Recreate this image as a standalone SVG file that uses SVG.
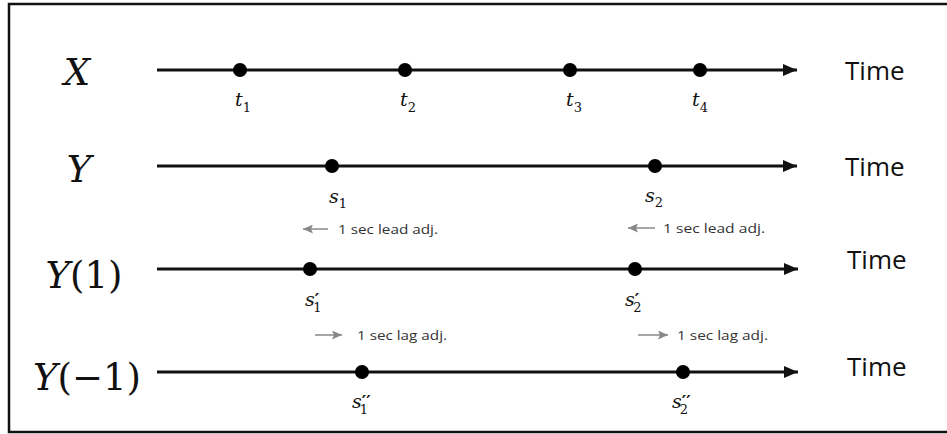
<svg xmlns="http://www.w3.org/2000/svg" width="947" height="434" viewBox="0 0 947 434">
<style>
.frame{fill:none;stroke:#111;stroke-width:2.5}
.axis{stroke:#111;stroke-width:3;fill:none}
.dot{fill:#000}
.big{font-family:"DejaVu Serif","Liberation Serif",serif;font-size:37px;fill:#111}
.it{font-style:italic}
.var{font-family:"DejaVu Serif","Liberation Serif",serif;font-style:italic;font-size:19px;fill:#111}
.sub{font-family:"DejaVu Serif","Liberation Serif",serif;font-style:normal;font-size:13px;fill:#111}
.pr{font-family:"DejaVu Serif","Liberation Serif",serif;font-style:normal;font-size:17px;font-weight:bold;fill:#111}
.time{font-family:"Open Sans","Liberation Sans",sans-serif;font-size:26px;fill:#111}
.note{font-family:"Open Sans","Liberation Sans",sans-serif;font-size:13px;fill:#333}
.adj{stroke:#888;stroke-width:1.5;fill:none}
</style>
<defs>
<marker id="ah" markerWidth="14" markerHeight="12" refX="14" refY="6" orient="auto" markerUnits="userSpaceOnUse">
<path d="M0,0 L14,6 L0,12 Z" fill="#111"/>
</marker>
<marker id="gh" markerWidth="10" markerHeight="9" refX="10" refY="4.5" orient="auto" markerUnits="userSpaceOnUse">
<path d="M0,0 L10,4.5 L0,9 L2,4.5 Z" fill="#888"/>
</marker>
</defs>
<rect class="frame" x="9" y="4" width="945" height="428"/>

<g id="connectors">
<line class="axis" x1="157" y1="70" x2="797" y2="70" marker-end="url(#ah)"/>
<line class="axis" x1="157" y1="166" x2="797" y2="166" marker-end="url(#ah)"/>
<line class="axis" x1="157" y1="269" x2="798" y2="269" marker-end="url(#ah)"/>
<line class="axis" x1="157" y1="372" x2="798" y2="372" marker-end="url(#ah)"/>
<line class="adj" x1="328" y1="229" x2="303" y2="229" marker-end="url(#gh)"/>
<line class="adj" x1="655" y1="228" x2="628" y2="228" marker-end="url(#gh)"/>
<line class="adj" x1="315" y1="335" x2="342" y2="335" marker-end="url(#gh)"/>
<line class="adj" x1="638" y1="335" x2="668" y2="335" marker-end="url(#gh)"/>
</g>

<g id="row-X">
<text class="big it" x="77" y="85" text-anchor="middle">X</text>
<text class="time" x="845" y="80">Time</text>
</g>
<g id="row-Y">
<text class="big it" x="79" y="182" text-anchor="middle">Y</text>
<text class="time" x="845" y="176">Time</text>
</g>
<g id="row-Y1">
<text class="big" x="84" y="288" text-anchor="middle"><tspan class="it">Y</tspan>(1)</text>
<text class="time" x="847" y="269">Time</text>
</g>
<g id="row-Ym1">
<text class="big" x="87" y="390" text-anchor="middle"><tspan class="it">Y</tspan>(−1)</text>
<text class="time" x="847" y="376">Time</text>
</g>

<g id="t1"><circle class="dot" cx="240" cy="70" r="7"/><text class="var" x="235" y="106">t<tspan class="sub" dy="6">1</tspan></text></g>
<g id="t2"><circle class="dot" cx="405" cy="70" r="7"/><text class="var" x="400" y="106">t<tspan class="sub" dy="6">2</tspan></text></g>
<g id="t3"><circle class="dot" cx="570" cy="70" r="7"/><text class="var" x="566" y="106">t<tspan class="sub" dy="6">3</tspan></text></g>
<g id="t4"><circle class="dot" cx="700" cy="70" r="7"/><text class="var" x="692" y="106">t<tspan class="sub" dy="6">4</tspan></text></g>

<g id="s1"><circle class="dot" cx="332" cy="166" r="7"/><text class="var" x="329" y="203">s<tspan class="sub" dy="5">1</tspan></text></g>
<g id="s2"><circle class="dot" cx="655" cy="166" r="7"/><text class="var" x="645" y="202">s<tspan class="sub" dy="5">2</tspan></text></g>

<g id="s1p"><circle class="dot" cx="310" cy="269" r="7"/><text class="var" x="305" y="306">s<tspan class="pr" dx="0" dy="-1">′</tspan><tspan class="sub" dx="-6" dy="7">1</tspan></text></g>
<g id="s2p"><circle class="dot" cx="635" cy="269" r="7"/><text class="var" x="625" y="306">s<tspan class="pr" dx="0" dy="-1">′</tspan><tspan class="sub" dx="-6" dy="7">2</tspan></text></g>

<g id="s1pp"><circle class="dot" cx="362" cy="372" r="7"/><text class="var" x="352" y="408">s<tspan class="pr" dx="0" dy="-1">′′</tspan><tspan class="sub" dx="-11" dy="7">1</tspan></text></g>
<g id="s2pp"><circle class="dot" cx="683" cy="372" r="7"/><text class="var" x="672" y="408">s<tspan class="pr" dx="0" dy="-1">′′</tspan><tspan class="sub" dx="-11" dy="7">2</tspan></text></g>

<g id="lead1"><text class="note" x="338" y="234" textLength="100" lengthAdjust="spacingAndGlyphs">1 sec lead adj.</text></g>
<g id="lead2"><text class="note" x="663" y="233" textLength="102" lengthAdjust="spacingAndGlyphs">1 sec lead adj.</text></g>
<g id="lag1"><text class="note" x="357" y="340" textLength="90" lengthAdjust="spacingAndGlyphs">1 sec lag adj.</text></g>
<g id="lag2"><text class="note" x="677" y="340" textLength="91" lengthAdjust="spacingAndGlyphs">1 sec lag adj.</text></g>
</svg>
